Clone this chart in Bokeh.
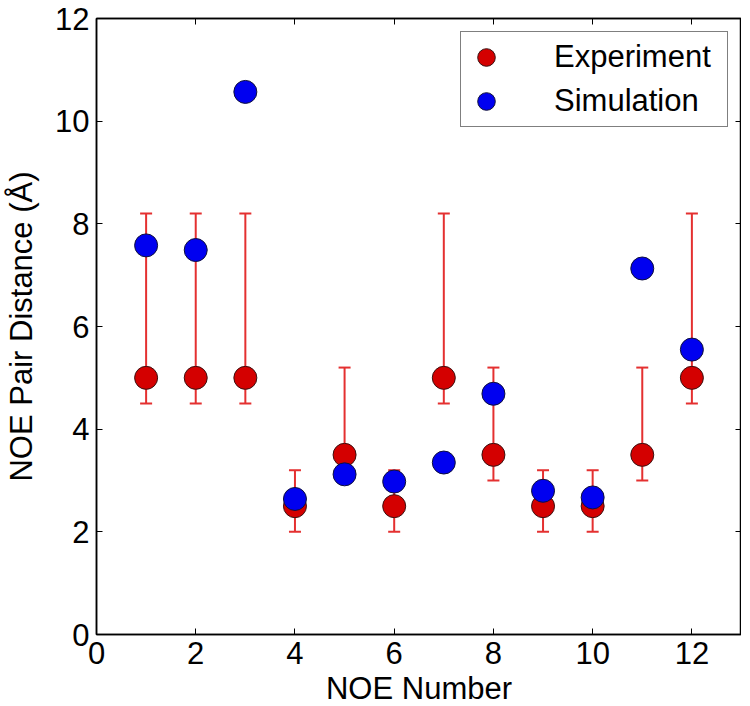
from bokeh.plotting import figure
from bokeh.models import ColumnDataSource, Whisker, TeeHead, LinearAxis, Range1d, FixedTicker, Legend, LegendItem
from bokeh.embed import file_html
from bokeh.resources import INLINE

noe_number = [1, 2, 3, 4, 5, 6, 7, 8, 9, 10, 11, 12]
experiment = [5.0, 5.0, 5.0, 2.5, 3.5, 2.5, 5.0, 3.5, 2.5, 2.5, 3.5, 5.0]
exp_lower = [4.5, 4.5, 4.5, 2.0, 3.0, 2.0, 4.5, 3.0, 2.0, 2.0, 3.0, 4.5]
exp_upper = [8.2, 8.2, 8.2, 3.2, 5.2, 3.2, 8.2, 5.2, 3.2, 3.2, 5.2, 8.2]
simulation = [7.58, 7.49, 10.57, 2.64, 3.12, 2.98, 3.35, 4.69, 2.8, 2.67, 7.13, 5.55]
x_ticks = [0, 2, 4, 6, 8, 10, 12]
y_ticks = [0, 2, 4, 6, 8, 10, 12]

FONT = "Liberation Sans"
RED = "#d40000"
BLUE = "#0000f0"
ERR = "#e43030"

src = ColumnDataSource(dict(x=noe_number, exp=experiment, lo=exp_lower, hi=exp_upper, sim=simulation))

p = figure(frame_width=645, frame_height=616, output_backend="svg", toolbar_location=None,
           x_range=Range1d(0, 13), y_range=Range1d(0, 12),
           min_border_left=96, min_border_top=18, min_border_bottom=60, min_border_right=0)
p.grid.visible = False
p.outline_line_color = "black"
p.outline_line_width = 1.5

wh = Whisker(source=src, base="x", lower="lo", upper="hi", line_color=ERR, line_width=2,
             lower_head=TeeHead(size=12, line_color=ERR, line_width=2),
             upper_head=TeeHead(size=12, line_color=ERR, line_width=2))
p.add_layout(wh)

r_exp = p.scatter("x", "exp", source=src, size=23, fill_color=RED, line_color="#3a1010", line_width=1)
r_sim = p.scatter("x", "sim", source=src, size=23, fill_color=BLUE, line_color="#10103a", line_width=1)

for ax in [p.xaxis[0], p.yaxis[0]]:
    ax.ticker = FixedTicker(ticks=x_ticks if ax is p.xaxis[0] else y_ticks)
    ax.major_tick_in = 6
    ax.major_tick_out = 0
    ax.minor_tick_in = 0
    ax.minor_tick_out = 0
    ax.axis_line_width = 1.5
    ax.major_label_text_font = FONT
    ax.major_label_text_font_size = "31px"
    ax.major_label_text_color = "black"
    ax.axis_label_text_font = FONT
    ax.axis_label_text_font_size = "31px"
    ax.axis_label_text_font_style = "normal"
    ax.axis_label_text_color = "black"

p.xaxis[0].axis_label = "NOE Number"
p.xaxis[0].major_label_standoff = 7
p.xaxis[0].axis_label_standoff = 4
p.yaxis[0].axis_label = "NOE Pair Distance (Å)"
p.yaxis[0].major_label_standoff = 7
p.yaxis[0].axis_label_standoff = 13

top = LinearAxis(ticker=FixedTicker(ticks=x_ticks), major_tick_in=6, major_tick_out=0,
                 minor_tick_in=0, minor_tick_out=0,
                 major_label_overrides={t: "" for t in x_ticks},
                 axis_line_width=1.5, major_label_standoff=0)
right = LinearAxis(ticker=FixedTicker(ticks=y_ticks), major_tick_in=6, major_tick_out=0,
                   minor_tick_in=0, minor_tick_out=0,
                   major_label_overrides={t: "" for t in y_ticks},
                   axis_line_width=1.5, major_label_standoff=0)
p.add_layout(top, "above")
p.add_layout(right, "right")

legend = Legend(items=[LegendItem(label="Experiment", renderers=[r_exp]),
                       LegendItem(label="Simulation", renderers=[r_sim])],
                location="top_right", label_text_font=FONT, label_text_font_size="31px",
                label_text_color="black",
                border_line_color="black", border_line_width=1.5, margin=13,
                glyph_width=44, glyph_height=44, label_standoff=46, padding=3, spacing=0,
                label_width=170, label_height=44)
p.add_layout(legend)

open("out.html", "w").write(file_html(p, INLINE))
